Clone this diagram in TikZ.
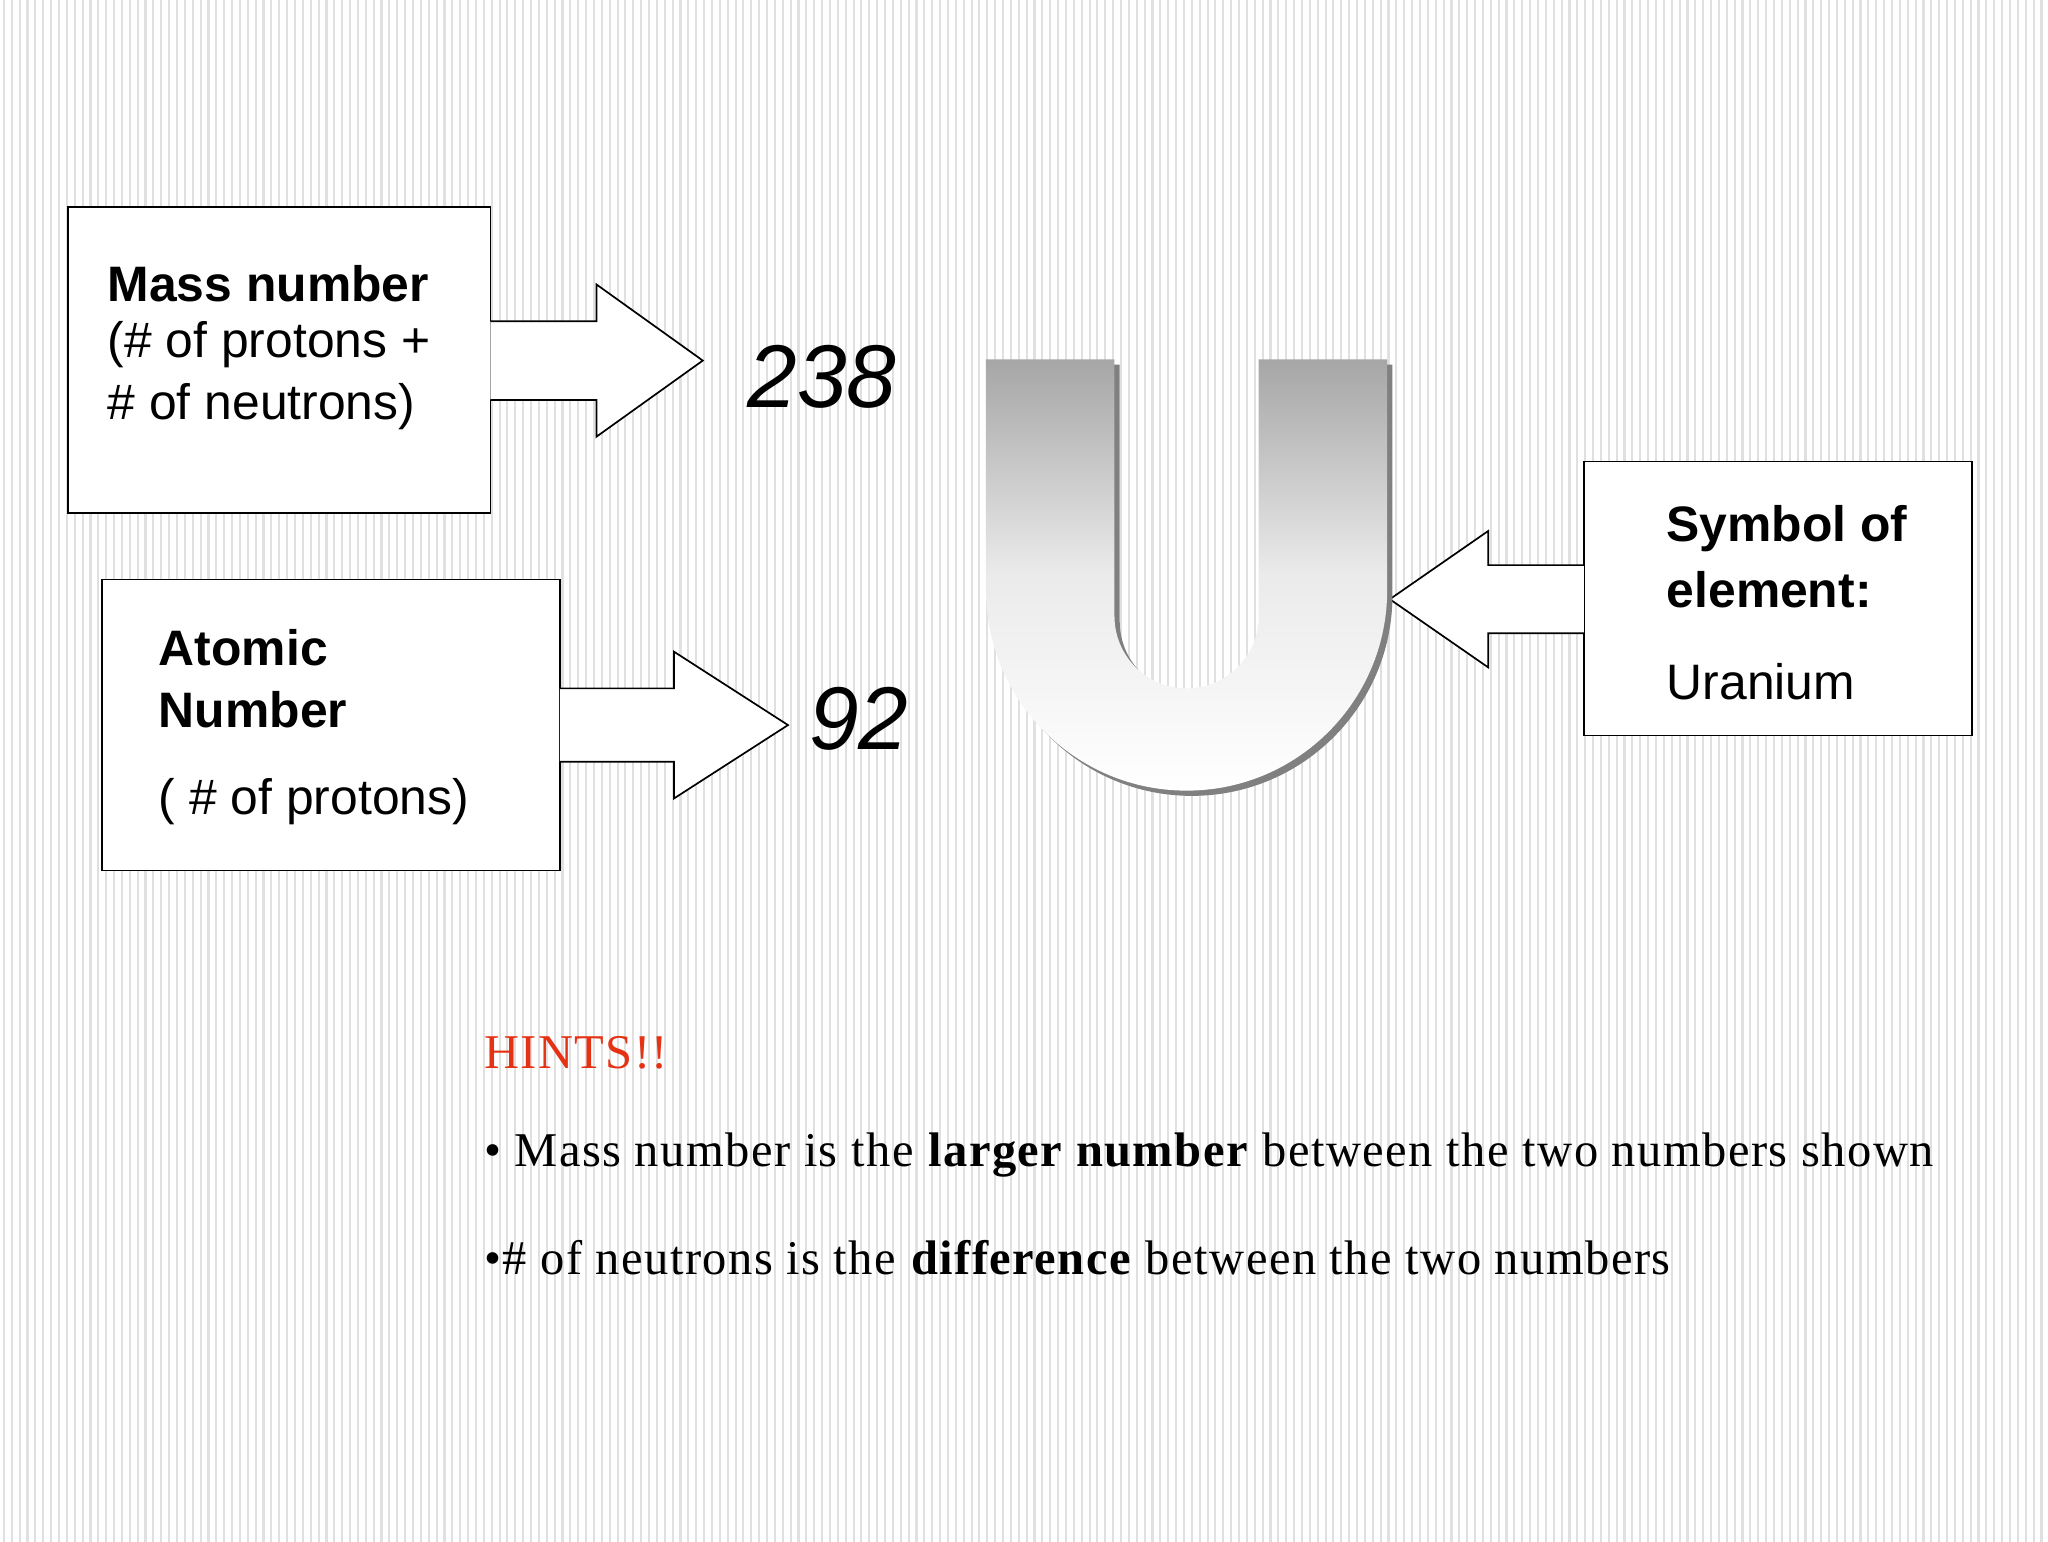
\documentclass[tikz,border=0pt]{standalone}
\usepackage{fontspec}
\setmainfont{Liberation Serif}[LetterSpace=3]
\setsansfont{Liberation Sans}
\tikzset{
 box/.style={draw=black,line width=1.3pt,fill=white},
 lbl/.style={anchor=west,font=\sffamily\fontsize{38}{44}\selectfont,inner sep=0},
 blbl/.style={lbl,font=\sffamily\bfseries\fontsize{38}{44}\selectfont},
 num/.style={font=\sffamily\itshape\fontsize{68}{80}\selectfont,inner sep=0},
 hint/.style={anchor=west,inner sep=0,font=\fontsize{37}{44}\selectfont}
}
\begin{document}
\begin{tikzpicture}[x=1pt,y=-1pt]
\useasboundingbox (0,0) rectangle (1562,1176);
\fill[white] (0,0) rectangle (1562,1176);
\foreach \i in {0,6,...,1560} \draw[line width=1.6pt,black!12] (\i+3,0) -- (\i+3,1176);
% boxes
\draw[box] (52,158) rectangle (374,391);
\draw[box] (78,442) rectangle (427,664);
\draw[box] (1208,352) rectangle (1504,561);
% arrows
\draw[box] (374,245) -- (455,245) -- (455,217) -- (536,275) -- (455,333) -- (455,305) -- (374,305);
\draw[box] (427,525) -- (514,525) -- (514,497) -- (601,553) -- (514,609) -- (514,581) -- (427,581);
\draw[box] (1208,431) -- (1135,431) -- (1135,405) -- (1060,457) -- (1135,509) -- (1135,483) -- (1208,483);
% texts
\node[blbl] (m1) at (82,216) {Mass number};
\node[lbl] (m2) at (82,263) {(\# of protons +};
\node[lbl] (m3) at (82,310) {\# of neutrons)};
\node[blbl] (a1) at (121,494) {Atomic};
\node[blbl] (a2) at (121,541) {Number};
\node[lbl] (a3) at (121,611) {( \# of protons)};
\node[blbl] (s1) at (1271,403) {Symbol of};
\node[blbl] (s2) at (1271,450) {element:};
\node[lbl] (s3) at (1271,520) {Uranium};
\node[num] (n1) at (627,287) {238};
\node[num] (n2) at (655,548) {92};
% U
\def\Upath{(752,274) -- (850,274) -- (850,470) arc[start angle=180,end angle=0,radius=55] -- (960,274) -- (1058,274) -- (1058,450) arc[start angle=0,end angle=180,radius=153] -- cycle}
\begin{scope}[shift={(4,4)}]
\fill[black!50] \Upath;
\end{scope}
\shade[top color=black!35,bottom color=white,middle color=black!8] \Upath;
% hints
\node[hint,text={rgb,255:red,230;green,50;blue,20}] (h0) at (369,803) {HINTS!!};
\node[hint] (h1) at (369,881) {• Mass number is the \textbf{larger number} between the two numbers shown};
\node[hint] (h2) at (369,959) {•\# of neutrons is the \textbf{difference} between the two numbers};
\end{tikzpicture}
\end{document}
